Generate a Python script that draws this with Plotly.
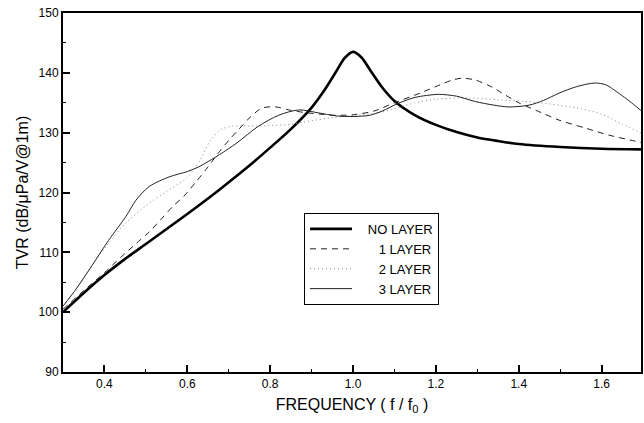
import plotly.graph_objects as go

# ---- data ----
f_none = [0.3, 0.35, 0.4, 0.45, 0.5, 0.55, 0.6, 0.65, 0.7, 0.75, 0.8, 0.85, 0.9, 0.93, 0.96,
          0.98, 1.0, 1.02, 1.04, 1.07, 1.1, 1.15, 1.2, 1.25, 1.3, 1.35, 1.4, 1.5, 1.6, 1.7]
tvr_none = [100.0, 103.2, 106.2, 108.9, 111.4, 113.9, 116.4, 119.0, 121.7, 124.5, 127.5, 130.6,
            134.2, 137.0, 140.3, 142.5, 143.5, 142.6, 140.6, 137.6, 135.3, 132.9, 131.3, 130.1,
            129.2, 128.6, 128.1, 127.6, 127.3, 127.2]

f_one = [0.3, 0.35, 0.4, 0.44, 0.477, 0.508, 0.539, 0.564, 0.592, 0.62, 0.648, 0.675, 0.701,
         0.725, 0.749, 0.78, 0.814, 0.845, 0.88, 0.92, 0.96, 1.0, 1.05, 1.1, 1.165, 1.21, 1.24,
         1.263, 1.295, 1.336, 1.36, 1.4, 1.456, 1.497, 1.559, 1.617, 1.68, 1.7]
tvr_one = [100.5, 103.6, 106.6, 109.2, 111.5, 113.4, 115.7, 117.6, 119.4, 121.7, 124.1, 126.6,
           128.8, 130.6, 132.4, 134.1, 134.3, 133.8, 133.4, 133.1, 132.9, 133.0, 133.6, 135.0,
           136.7, 138.0, 138.8, 139.1, 138.8, 137.6, 136.6, 135.0, 133.3, 132.1, 130.8, 129.6,
           128.6, 128.3]

f_two = [0.3, 0.333, 0.37, 0.41, 0.45, 0.5, 0.55, 0.6, 0.63, 0.655, 0.68, 0.71, 0.75, 0.8, 0.85,
         0.9, 0.95, 1.0, 1.06, 1.1, 1.15, 1.2, 1.28, 1.35, 1.45, 1.55, 1.6, 1.65, 1.7]
tvr_two = [101.0, 104.0, 107.8, 111.5, 114.8, 117.8, 120.2, 122.5, 125.3, 128.6, 130.5, 131.1,
           131.1, 131.2, 131.4, 132.0, 132.5, 132.9, 133.3, 134.0, 135.0, 135.6, 135.8, 135.5,
           135.0, 134.0, 133.1, 131.4, 129.8]

f_three = [0.3, 0.333, 0.37, 0.41, 0.452, 0.476, 0.508, 0.556, 0.6, 0.628, 0.677, 0.72, 0.77,
           0.82, 0.869, 0.917, 0.96, 1.0, 1.04, 1.07, 1.109, 1.15, 1.206, 1.25, 1.295, 1.34,
           1.376, 1.425, 1.46, 1.497, 1.54, 1.583, 1.61, 1.631, 1.655, 1.672, 1.7]
tvr_three = [101.0, 104.0, 107.8, 112.0, 116.0, 118.7, 121.0, 122.6, 123.5, 124.3, 126.3, 128.3,
             131.0, 132.9, 133.8, 133.3, 132.8, 132.7, 132.9, 133.6, 134.9, 135.9, 136.4, 136.1,
             135.2, 134.6, 134.3, 134.6, 135.4, 136.6, 137.7, 138.3, 138.0, 137.1, 135.9, 135.0,
             133.4]

# legend labels (non-breaking spaces right-align them as in the reference)
NB = "\u00a0"
series_names = [NB * 3 + "NO LAYER",
                NB * 6 + "1 LAYER",
                NB * 6 + "2 LAYER",
                NB * 6 + "3 LAYER"]
x_ticks = [0.4, 0.6, 0.8, 1.0, 1.2, 1.4, 1.6]
x_tick_text = ["0.4", "0.6", "0.8", "1.0", "1.2", "1.4", "1.6"]
y_ticks = [90, 100, 110, 120, 130, 140, 150]

FONT = "Liberation Sans, Arial, sans-serif"

fig = go.Figure()
fig.add_trace(go.Scatter(x=f_none, y=tvr_none, name=series_names[0], mode="lines",
                         line=dict(color="black", width=2.6, shape="spline", smoothing=0.8)))
fig.add_trace(go.Scatter(x=f_one, y=tvr_one, name=series_names[1], mode="lines",
                         line=dict(color="#222", width=1, dash="6px,5px", shape="spline", smoothing=0.8)))
fig.add_trace(go.Scatter(x=f_two, y=tvr_two, name=series_names[2], mode="lines",
                         line=dict(color="#888", width=1, dash="1px,3px", shape="spline", smoothing=0.8)))
fig.add_trace(go.Scatter(x=f_three, y=tvr_three, name=series_names[3], mode="lines",
                         line=dict(color="#222", width=1, shape="spline", smoothing=0.8)))

fig.update_layout(
    width=644, height=423,
    margin=dict(l=63, r=1, t=13, b=51),
    paper_bgcolor="white", plot_bgcolor="white",
    font=dict(family=FONT, color="black", size=12),
    showlegend=True,
    legend=dict(x=0.417, y=0.443, xanchor="left", yanchor="top",
                bordercolor="black", borderwidth=1, bgcolor="white",
                font=dict(size=13), itemwidth=42, tracegroupgap=0),
)
fig.update_xaxes(
    range=[0.3, 1.695], showgrid=False, zeroline=False,
    showline=True, linecolor="black", linewidth=2, mirror=True,
    ticks="inside", ticklen=7, tickwidth=1.5, tickcolor="black",
    tickvals=x_ticks, ticktext=x_tick_text, tickfont=dict(size=12),
    minor=dict(dtick=0.1, tick0=0.3, ticks="inside", ticklen=3, tickwidth=1.2, tickcolor="black"),
    title=dict(text="FREQUENCY ( f / f<sub>0</sub> )", font=dict(size=16), standoff=8),
)
fig.update_yaxes(
    range=[90, 150], showgrid=False, zeroline=False,
    showline=True, linecolor="black", linewidth=2, mirror=True,
    ticks="inside", ticklen=7, tickwidth=1.5, tickcolor="black",
    tickvals=y_ticks, tickfont=dict(size=12),
    minor=dict(dtick=5, tick0=90, ticks="inside", ticklen=3, tickwidth=1.2, tickcolor="black"),
    title=dict(text="TVR (dB/\u03bcPa/V@1m)", font=dict(size=16), standoff=6),
)

fig.write_html("out.html")
